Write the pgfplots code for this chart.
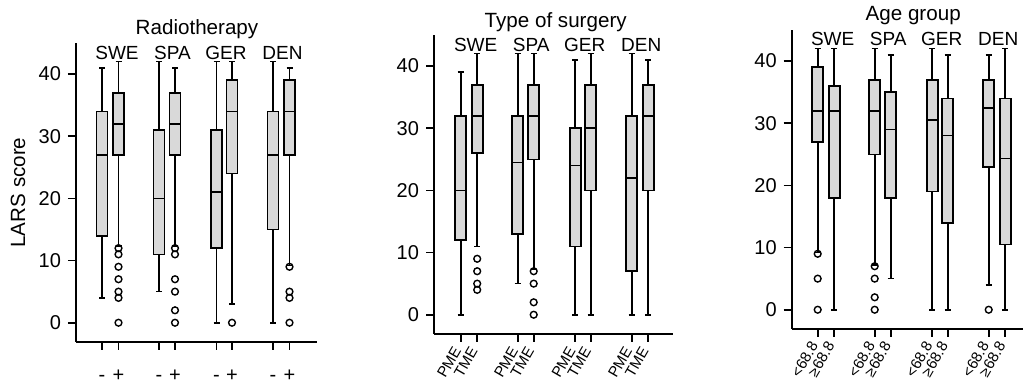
\documentclass[border=0pt]{standalone}
\usepackage{pgfplots}
\pgfplotsset{compat=1.18}
\usepgfplotslibrary{statistics}
\usepackage{fontspec}
\setmainfont{Liberation Sans}
\definecolor{boxgray}{HTML}{D9D9D9}
\newcommand\bx[7]{\addplot[black, line width=0.8pt, mark=o, mark size=1.7pt, mark options={line width=0.7pt, fill=none}, boxplot prepared={draw direction=y, draw position=#1, lower whisker=#2, lower quartile=#3, median=#4, upper quartile=#5, upper whisker=#6, box extend=11, whisker extend=6}] coordinates {#7};}
\pgfplotsset{panel/.style={scale only axis, width=120.5pt, height=149.5pt,
  xmin=-26, xmax=215, ymin=-3.1, ymax=45,
  axis x line=bottom, axis y line=left, axis line style={-, line width=0.8pt},
  tick align=outside, major tick length=4pt, every tick/.style={black, line width=0.8pt},
  xtick={0,16.5,57,73,114.5,130,171,187.5}, ytick={0,10,20,30,40},
  /pgf/number format/assume math mode=true,
  tick label style={font=\fontsize{10}{12}\selectfont},
  clip=false, boxplot/every box/.style={fill=boxgray}, anchor=south west}}
\begin{document}
\begin{tikzpicture}
\useasboundingbox (0,0) rectangle (511.5pt,190pt);
\clip (0,0) rectangle (511.5pt,190pt);
% Panel 1: Radiotherapy
\begin{axis}[panel, at={(38pt,19pt)},
  xticklabels={-,+,-,+,-,+,-,+},
  xticklabel style={anchor=base, inner sep=0pt, yshift=-15.8pt}]
\bx{0}{4}{14}{27}{34}{41}{}
\bx{16.5}{12.3}{27}{32}{37}{42}{(0,12) (0,11) (0,9) (0,7) (0,5) (0,4) (0,0)}
\bx{57}{5}{11}{20}{31}{42}{}
\bx{73}{12.3}{27}{32}{37}{41}{(0,12) (0,11) (0,7) (0,5) (0,2) (0,0)}
\bx{114.5}{0}{12}{21}{31}{42}{}
\bx{130}{3}{24}{34}{39}{42}{(0,0)}
\bx{171}{0}{15}{27}{34}{42}{}
\bx{187.5}{9.2}{27}{34}{39}{41}{(0,9) (0,5) (0,4) (0,0)}
\node[font=\fontsize{10.3}{12}\selectfont] at (axis cs:95,47.25) {Radiotherapy};
\node[font=\fontsize{9.5}{11}\selectfont] at (axis cs:15,43.4) {SWE};
\node[font=\fontsize{9.5}{11}\selectfont] at (axis cs:70.5,43.4) {SPA};
\node[font=\fontsize{9.5}{11}\selectfont] at (axis cs:124,43.4) {GER};
\node[font=\fontsize{9.5}{11}\selectfont] at (axis cs:180.5,43.4) {DEN};
\node[rotate=90, font=\fontsize{10.3}{12}\selectfont] at (rel axis cs:-0.24,0.5) {LARS score};
\end{axis}
% Panel 2: Type of surgery
\begin{axis}[panel, at={(217pt,23pt)}, width=119.5pt, xmin=-26.7, xmax=212.3,
  xticklabels={PME,TME,PME,TME,PME,TME,PME,TME},
  xticklabel style={rotate=60, anchor=east, font=\fontsize{7.5}{8}\selectfont}]
\bx{0}{0}{12}{20}{32}{39}{}
\bx{16.5}{11}{26}{32}{37}{42}{(0,9) (0,7) (0,5) (0,4)}
\bx{57}{5}{13}{24.5}{32}{42}{}
\bx{73}{7.3}{25}{32}{37}{42}{(0,7) (0,5) (0,2) (0,0)}
\bx{114.5}{0}{11}{24}{30}{41}{}
\bx{130}{0}{20}{30}{37}{42}{}
\bx{171}{0}{7}{22}{32}{42}{}
\bx{187.5}{0}{20}{32}{37}{41}{}
\node[font=\fontsize{10.3}{12}\selectfont] at (axis cs:95,47.1) {Type of surgery};
\node[font=\fontsize{9.5}{11}\selectfont] at (axis cs:15,43.4) {SWE};
\node[font=\fontsize{9.5}{11}\selectfont] at (axis cs:70.5,43.4) {SPA};
\node[font=\fontsize{9.5}{11}\selectfont] at (axis cs:124,43.4) {GER};
\node[font=\fontsize{9.5}{11}\selectfont] at (axis cs:180.5,43.4) {DEN};
\end{axis}
% Panel 3: Age group
\begin{axis}[panel, at={(395.85pt,25.5pt)},
  xticklabels={\textless68.8,≥68.8,\textless68.8,≥68.8,\textless68.8,≥68.8,\textless68.8,≥68.8},
  xticklabel style={rotate=60, anchor=east, font=\fontsize{7.5}{8}\selectfont}]
\bx{0}{9.2}{27}{32}{39}{42}{(0,9) (0,5) (0,0)}
\bx{16.5}{0}{18}{32}{36}{42}{}
\bx{57}{7.2}{25}{32}{37}{42}{(0,7) (0,5) (0,2) (0,0)}
\bx{73}{5}{18}{29}{35}{41}{}
\bx{114.5}{0}{19}{30.5}{37}{42}{}
\bx{130}{0}{14}{28}{34}{41}{}
\bx{171}{4}{23}{32.5}{37}{41}{(0,0)}
\bx{187.5}{0}{10.5}{24.3}{34}{42}{}
\node[font=\fontsize{10.3}{12}\selectfont] at (axis cs:95.5,47.4) {Age group};
\node[font=\fontsize{9.5}{11}\selectfont] at (axis cs:15,43.55) {SWE};
\node[font=\fontsize{9.5}{11}\selectfont] at (axis cs:70.5,43.55) {SPA};
\node[font=\fontsize{9.5}{11}\selectfont] at (axis cs:124,43.55) {GER};
\node[font=\fontsize{9.5}{11}\selectfont] at (axis cs:180.5,43.55) {DEN};
\end{axis}
\end{tikzpicture}
\end{document}
